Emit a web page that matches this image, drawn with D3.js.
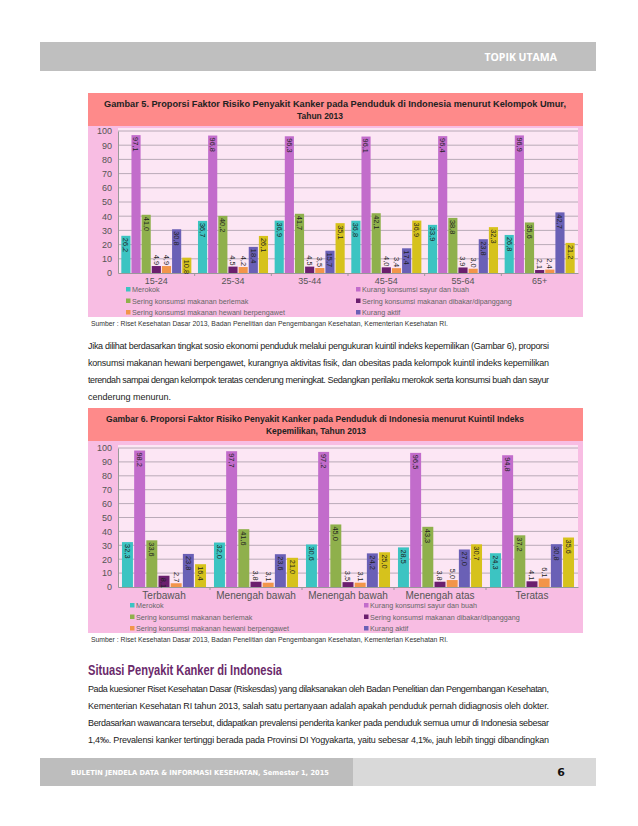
<!DOCTYPE html>
<html>
<head>
<meta charset="utf-8">
<script src="https://cdn.jsdelivr.net/npm/d3@7"></script>
<style>
  body { margin: 0; background: #fff; }
  svg { display: block; }
</style>
</head>
<body>
<div id="canvas"></div>
<script>
"use strict"

// ---- data ----
let seriesNames = ["Merokok", "Kurang konsumsi sayur dan buah", "Sering konsumsi makanan berlemak",
                   "Sering konsumsi makanan dibakar/dipanggang", "Sering konsumsi makanan hewani berpengawet",
                   "Kurang aktif", "Obesitas"];
let seriesColors = ["#3cc4c2", "#c26ccb", "#8fb04c", "#6b1f6e", "#f2954a", "#6a60b6", "#d6c21c"];

// legend shows only six entries, two columns
let legendCol1 = [0, 2, 4];
let legendCol2 = [1, 3, 5];

let ageGroups = ["15-24", "25-34", "35-44", "45-54", "55-64", "65+"];
let ageValues = [
  [26.2, 97.1, 41.0, 4.9, 4.9, 30.8, 10.8],
  [36.7, 96.8, 40.2, 4.5, 4.2, 18.4, 26.1],
  [36.9, 96.3, 41.7, 4.5, 3.5, 15.7, 35.1],
  [36.8, 96.1, 42.1, 4.0, 3.4, 17.4, 36.9],
  [33.9, 96.4, 38.8, 3.9, 3.0, 23.8, 32.3],
  [26.8, 96.9, 35.6, 2.1, 2.4, 42.7, 21.2]
];

let quintileGroups = ["Terbawah", "Menengah bawah", "Menengah bawah ", "Menengah atas", "Teratas"];
let quintileValues = [
  [32.3, 98.2, 33.6, 8.1, 2.7, 23.8, 16.4],
  [32.0, 97.7, 41.6, 3.8, 3.1, 23.6, 21.0],
  [30.6, 97.2, 45.0, 3.5, 3.1, 24.2, 25.0],
  [28.5, 96.5, 43.3, 3.8, 5.0, 27.0, 30.7],
  [24.3, 94.8, 37.2, 4.1, 6.1, 30.8, 35.6]
];

let yTicks = [0, 10, 20, 30, 40, 50, 60, 70, 80, 90, 100];

let sans = "'Liberation Sans', Arial, sans-serif";

let drawing = d3.select("#canvas")
    .append("svg")
    .attr("width", 638)
    .attr("height", 826);

drawing.append("rect").attr("width", 638).attr("height", 826).attr("fill", "#fff");

/* header band */
drawing.append("rect")
    .attr("x", 40).attr("y", 42).attr("width", 556).attr("height", 29)
    .attr("fill", "#bfbfbf");
drawing.append("text")
    .attr("x", 557).attr("y", 61)
    .attr("text-anchor", "end")
    .attr("font-family", "'Open Sans', 'DejaVu Sans', sans-serif")
    .attr("font-weight", "bold")
    .attr("font-size", 10.5)
    .attr("fill", "#fff")
    .text("TOPIK UTAMA");

function fmt(v) {
  return v.toFixed(1).replace(".", ",");
}

/* one chart panel */
function drawChart(opt) {
  let g = drawing.append("g");

  g.append("rect")
      .attr("x", 88).attr("y", opt.top).attr("width", 495).attr("height", opt.height)
      .attr("fill", "#f8bde3");
  g.append("rect")
      .attr("x", 88).attr("y", opt.top).attr("width", 495).attr("height", 33)
      .attr("fill", "#fe8a8a");

  opt.title.forEach(function(t, i) {
    g.append("text")
        .attr("x", opt.titleX[i] - opt.titleW[i] / 2).attr("y", opt.top + 14 + i * 12)
        .attr("font-family", sans)
        .attr("font-weight", "bold")
        .attr("font-size", 9.5)
        .attr("fill", "#222")
        .attr("textLength", opt.titleW[i])
        .attr("lengthAdjust", "spacingAndGlyphs")
        .text(t);
  });

  let y = d3.scaleLinear().domain([0, 100]).range([opt.y0, opt.y100]);
  let x0 = d3.scaleBand().domain(opt.groups).range([118, 578]).paddingInner(0.06).paddingOuter(0.03);
  let x1 = d3.scaleBand().domain(d3.range(seriesNames.length)).range([0, x0.bandwidth()]).padding(0.1);

  // plot background
  g.append("rect")
      .attr("x", 118).attr("y", y(100) - 3).attr("width", 460).attr("height", y(0) - y(100) + 3)
      .attr("fill", "#fce6f4");

  // grid lines
  g.append("g").selectAll("line")
    .data(yTicks.slice(1))
    .join("line")
      .attr("x1", 118).attr("x2", 578)
      .attr("y1", d => y(d)).attr("y2", d => y(d))
      .attr("stroke", "#a89aa8")
      .attr("stroke-width", 0.8);

  // y axis
  let yAxis = g.append("g")
      .attr("transform", "translate(118,0)")
      .call(d3.axisLeft(y).tickValues(yTicks).tickSize(0).tickPadding(6));
  yAxis.select(".domain").attr("stroke", "#999");
  yAxis.selectAll("text")
      .attr("font-family", sans)
      .attr("font-size", 9)
      .attr("fill", "#555");

  // x axis
  let xAxis = g.append("g")
      .attr("transform", "translate(0," + y(0) + ")")
      .call(d3.axisBottom(x0).tickSize(0).tickPadding(5));
  xAxis.select(".domain").attr("stroke", "#999");
  xAxis.selectAll("text")
      .attr("font-family", sans)
      .attr("font-size", opt.groupFont)
      .attr("fill", "#555");
  g.append("g").selectAll("line")
    .data(opt.groups.slice(1))
    .join("line")
      .attr("x1", d => x0(d) - x0.step() * x0.paddingInner() / 2)
      .attr("x2", d => x0(d) - x0.step() * x0.paddingInner() / 2)
      .attr("y1", y(0)).attr("y2", y(0) + 3)
      .attr("stroke", "#999");

  // bars
  let groupsSel = g.append("g").selectAll("g")
    .data(opt.values)
    .join("g")
      .attr("transform", (d, i) => "translate(" + x0(opt.groups[i]) + ",0)");

  groupsSel.selectAll("rect")
    .data(d => d)
    .join("rect")
      .attr("x", (d, i) => x1(i))
      .attr("y", d => y(d))
      .attr("width", x1.bandwidth())
      .attr("height", d => y(0) - y(d))
      .attr("fill", (d, i) => seriesColors[i]);

  groupsSel.selectAll("text")
    .data(d => d)
    .join("text")
      .attr("transform", function(d, i) {
        let cx = x1(i) + x1.bandwidth() / 2;
        let ty = d >= 8 ? y(d) + 2 : y(d) - 1;
        return "translate(" + cx + "," + ty + ") rotate(90)";
      })
      .attr("text-anchor", d => d >= 8 ? "start" : "end")
      .attr("dy", "0.35em")
      .attr("font-family", sans)
      .attr("font-size", 7.4)
      .attr("fill", "#1e1e1e")
      .text(d => fmt(d));

  // legend
  function legendColumn(idx, lx) {
    let items = g.append("g").selectAll("g")
      .data(idx)
      .join("g")
        .attr("transform", (d, i) => "translate(" + lx + "," + (opt.legendY + i * 11.5) + ")");
    items.append("rect")
        .attr("x", 0).attr("y", -3).attr("width", 4.5).attr("height", 4.5)
        .attr("fill", d => seriesColors[d]);
    items.append("text")
        .attr("x", 6).attr("y", 0)
        .attr("dy", "0.3em")
        .attr("font-family", sans)
        .attr("font-size", 7.2)
        .attr("fill", "#666")
        .text(d => seriesNames[d]);
  }
  legendColumn(legendCol1, opt.legendX[0]);
  legendColumn(legendCol2, opt.legendX[1]);

  // source
  g.append("text")
      .attr("x", 91).attr("y", opt.top + opt.height + 9)
      .attr("font-family", sans)
      .attr("font-size", 7.5)
      .attr("fill", "#333")
      .attr("textLength", 357)
      .attr("lengthAdjust", "spacingAndGlyphs")
      .text("Sumber : Riset Kesehatan Dasar 2013, Badan Penelitian dan Pengembangan Kesehatan, Kementerian Kesehatan RI.");
}

drawChart({
  top: 93, height: 224,
  title: ["Gambar 5. Proporsi Faktor Risiko Penyakit Kanker pada Penduduk di Indonesia menurut Kelompok Umur,", "Tahun 2013"],
  titleX: [335, 320], titleW: [462, 46],
  groups: ageGroups, values: ageValues,
  y0: 273, y100: 131,
  groupFont: 9,
  legendY: 290, legendX: [126, 356]
});

drawChart({
  top: 408, height: 225,
  title: ["Gambar 6. Proporsi Faktor Risiko Penyakit Kanker pada Penduduk di Indonesia menurut Kuintil Indeks", "Kepemilikan, Tahun 2013"],
  titleX: [315, 316], titleW: [418, 100],
  groups: quintileGroups, values: quintileValues,
  y0: 587, y100: 448,
  groupFont: 10,
  legendY: 606, legendX: [130, 364]
});

/* body text, justified line by line */
function paragraph(lines, top) {
  lines.forEach(function(t, i) {
    let tx = drawing.append("text")
        .attr("x", 88).attr("y", top + i * 17)
        .attr("font-family", sans)
        .attr("font-size", 9)
        .attr("fill", "#222")
        .text(t);
    if (i < lines.length - 1 || lines.justifyLast) {
      tx.attr("textLength", 461).attr("lengthAdjust", "spacing");
    }
  });
}

let para1 = [
  "Jika dilihat berdasarkan tingkat sosio ekonomi penduduk melalui pengukuran kuintil indeks kepemilikan (Gambar 6), proporsi",
  "konsumsi makanan hewani berpengawet, kurangnya aktivitas fisik, dan obesitas pada kelompok kuintil indeks kepemilikan",
  "terendah sampai dengan kelompok teratas cenderung meningkat. Sedangkan perilaku merokok serta konsumsi buah dan sayur",
  "cenderung menurun."
];
paragraph(para1, 349);

drawing.append("text")
    .attr("x", 88).attr("y", 675)
    .attr("font-family", sans)
    .attr("font-weight", "bold")
    .attr("font-size", 14)
    .attr("fill", "#6b2a6b")
    .attr("textLength", 194)
    .attr("lengthAdjust", "spacingAndGlyphs")
    .text("Situasi Penyakit Kanker di Indonesia");

let para2 = [
  "Pada kuesioner Riset Kesehatan Dasar (Riskesdas) yang dilaksanakan oleh Badan Penelitian dan Pengembangan Kesehatan,",
  "Kementerian Kesehatan RI tahun 2013, salah satu pertanyaan adalah apakah penduduk pernah didiagnosis oleh dokter.",
  "Berdasarkan wawancara tersebut, didapatkan prevalensi penderita kanker pada penduduk semua umur di Indonesia sebesar",
  "1,4\u2030. Prevalensi kanker tertinggi berada pada Provinsi DI Yogyakarta, yaitu sebesar 4,1\u2030, jauh lebih tinggi dibandingkan"
];
para2.justifyLast = true;
paragraph(para2, 692);

/* footer */
drawing.append("rect")
    .attr("x", 40).attr("y", 758).attr("width", 313).attr("height", 28)
    .attr("fill", "#bdbdbd");
drawing.append("rect")
    .attr("x", 353).attr("y", 758).attr("width", 243).attr("height", 28)
    .attr("fill", "#d9d9d9");
drawing.append("text")
    .attr("x", 71).attr("y", 775)
    .attr("font-family", "'DejaVu Sans', sans-serif")
    .attr("font-weight", "bold")
    .attr("font-size", 7)
    .attr("fill", "#fff")
    .attr("textLength", 258)
    .attr("lengthAdjust", "spacingAndGlyphs")
    .text("BULETIN JENDELA DATA & INFORMASI KESEHATAN, Semester 1, 2015");
drawing.append("text")
    .attr("x", 561).attr("y", 776)
    .attr("text-anchor", "middle")
    .attr("font-family", "'DejaVu Sans', sans-serif")
    .attr("font-weight", "bold")
    .attr("font-size", 11)
    .attr("fill", "#111")
    .text("6");
</script>
</body>
</html>
